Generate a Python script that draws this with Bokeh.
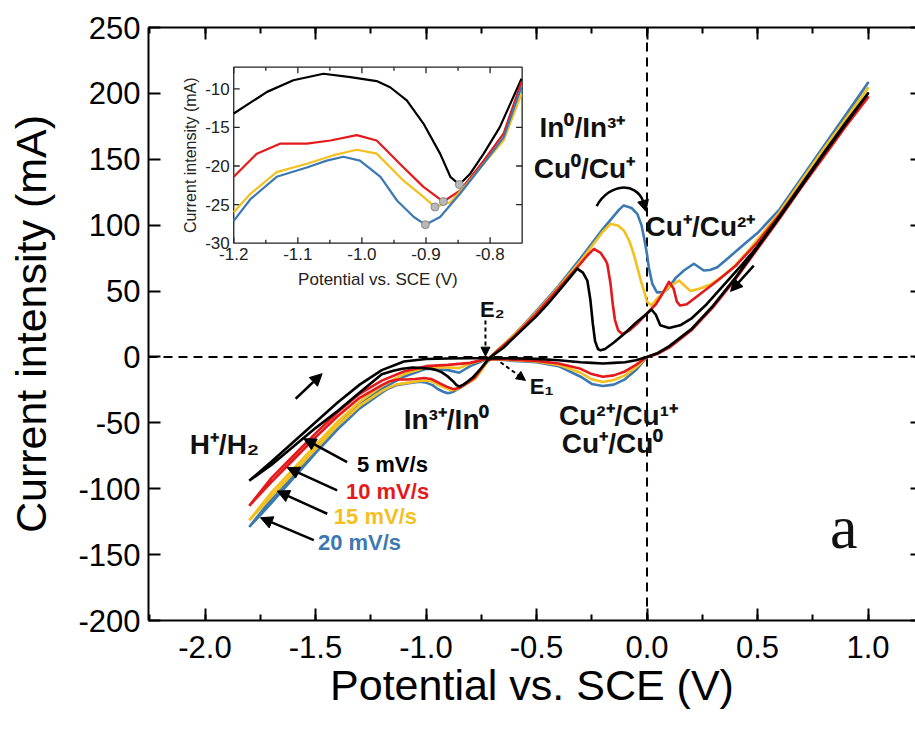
import numpy as np
from bokeh.plotting import figure
from bokeh.models import (Range1d, LinearAxis, SingleIntervalTicker, PrintfTickFormatter,
                          Span, Arrow, NormalHead, ColumnDataSource)
from bokeh.core.properties import value
from bokeh.embed import file_html
from bokeh.resources import INLINE

FONT = "Liberation Sans"

# ---------------- data ----------------
scan_labels = ["5 mV/s", "10 mV/s", "15 mV/s", "20 mV/s"]
curve_colors = ["#000000", "#e3191c", "#f4c01e", "#3c78b2"]

# reverse (cathodic) sweep, shared potentials
rev_hi_x = [1.0, 0.9, 0.8, 0.7, 0.6, 0.5, 0.4, 0.3, 0.2, 0.1, 0.05, 0.0, -0.05, -0.1, -0.15,
            -0.2, -0.25, -0.3, -0.4, -0.5, -0.6, -0.7, -0.72]
rev_lo_x = [-1.3, -1.4, -1.5, -1.6, -1.7, -1.8]

# 5 mV/s
black_fwd_x = [-1.8, -1.7, -1.6, -1.5, -1.4, -1.3, -1.2, -1.1, -1.0, -0.9, -0.8, -0.715, -0.65, -0.6,
               -0.5, -0.45, -0.4, -0.35, -0.316, -0.29, -0.27, -0.256, -0.245, -0.235, -0.222, -0.21,
               -0.19, -0.15, -0.1, -0.05, 0.0, 0.02, 0.04, 0.06, 0.1, 0.15, 0.2, 0.27, 0.35, 0.43, 0.5,
               0.6, 0.7, 0.8, 0.9, 1.0]
black_fwd_y = [-94, -79.5, -64.5, -49.5, -34.5, -21, -10, -3.5, -1.6, -1.2, -1.0, -1.0, 7, 15,
               31, 40, 50, 60, 67, 64, 58, 43, 25, 12, 6, 5,
               6, 11, 18, 26, 33, 36, 32, 24, 22, 24, 29, 40, 55, 70, 84,
               107, 131, 155, 178, 200]
black_rev_hi_y = [200, 177, 154, 130, 106, 83, 60, 39, 21, 8, 3, 0, -2.5, -4, -4.5,
                  -5, -4.5, -4, -2.5, -1.5, -1.0, -1.2, -2.0]
black_rev_lo_y = [-27, -41, -54, -68, -82, -94]

# 10 mV/s
red_fwd_x = [-1.8, -1.7, -1.6, -1.5, -1.4, -1.3, -1.2, -1.1, -1.0, -0.9, -0.8, -0.715, -0.6, -0.5,
             -0.4, -0.3, -0.27, -0.24, -0.21, -0.19, -0.18, -0.165, -0.155, -0.145, -0.13, -0.112,
             -0.08, -0.04, 0.0, 0.04, 0.07, 0.099, 0.12, 0.135, 0.15, 0.18, 0.242, 0.32, 0.4, 0.5,
             0.6, 0.7, 0.8, 0.9, 1.0]
red_fwd_y = [-113, -92, -75, -58, -42, -28, -18, -11, -7, -6, -4.5, -1.0, 16, 33,
             52, 71, 77, 82, 79, 74, 70.7, 55.5, 40, 28, 20, 17.5,
             20, 26, 33, 40, 48, 57, 52, 42, 39, 40, 48, 58, 69, 87,
             108, 131, 154, 176, 197]
red_rev_hi_y = [197, 175, 152, 129, 105, 82, 59, 38, 20, 7, 2.5, 0, -6, -11, -14,
                -15, -13, -9, -5, -3, -2, -1.5, -2.5]
red_rev_lo_y = [-31, -45, -61, -78, -95, -113]

# 15 mV/s
yellow_fwd_x = [-1.8, -1.7, -1.6, -1.5, -1.4, -1.3, -1.2, -1.1, -1.0, -0.9, -0.85, -0.8, -0.715,
                -0.6, -0.5, -0.4, -0.3, -0.25, -0.2, -0.165, -0.13, -0.105, -0.08, -0.06, -0.044,
                -0.025, -0.014, 0.0, 0.02, 0.05, 0.1, 0.145, 0.17, 0.197, 0.24, 0.287, 0.34, 0.39,
                0.45, 0.5, 0.6, 0.7, 0.8, 0.9, 1.0]
yellow_fwd_y = [-124, -103, -85, -67, -49, -34, -22, -13, -8, -8, -8.5, -5, -1.0,
                17, 34, 53, 73, 84, 95, 101, 99.5, 96, 88, 78, 68,
                56, 50.5, 42, 39, 45, 53, 58, 54, 50, 52, 55, 61, 68,
                79, 89, 110, 134, 158, 181, 204]
yellow_rev_hi_y = [204, 180, 156, 131, 107, 84, 60, 39, 21, 8, 3, 0, -8, -14, -17.5,
                   -19, -17, -12, -6, -3.5, -2.5, -1.5, -3]
yellow_rev_lo_y = [-37, -52, -70, -88, -106, -124]

# 20 mV/s
blue_fwd_x = [-1.8, -1.7, -1.6, -1.5, -1.4, -1.3, -1.2, -1.1, -1.0, -0.9, -0.85, -0.8, -0.715,
              -0.6, -0.5, -0.4, -0.3, -0.2, -0.15, -0.125, -0.105, -0.07, -0.044, -0.025, -0.014,
              0.0, 0.008, 0.024, 0.045, 0.07, 0.091, 0.13, 0.167, 0.212, 0.257, 0.285, 0.318, 0.36,
              0.408, 0.45, 0.5, 0.6, 0.7, 0.8, 0.9, 1.0]
blue_fwd_y = [-129, -108, -89, -70, -52, -36, -24, -15, -9, -10, -12, -7, -1.0,
              17, 35, 54, 75, 97, 107, 112, 115, 113, 108.6, 100, 91,
              78, 68, 55.5, 49, 49, 51, 60, 65.6, 70.7, 65.6, 66, 68, 74,
              81, 87, 94, 112, 136, 160, 184, 208]
blue_rev_hi_y = [208, 183, 158, 132, 108, 84, 60, 39, 21, 8, 3, 0, -10, -17, -21,
                 -22, -20.5, -15, -7, -4, -3, -1.5, -3]
blue_rev_lo_y = [-39, -55, -73, -92, -111, -129]

# inset: cathodic sweep, In3+/In0 region
inset_black_x = [-1.2, -1.148, -1.107, -1.06, -1.018, -0.977, -0.956, -0.93, -0.904, -0.878,
                 -0.862, -0.848, -0.831, -0.81, -0.785, -0.751]
inset_black_y = [-13.2, -10.4, -8.9, -8.05, -8.5, -9.0, -9.8, -11.5, -14.5, -18.4,
                 -21.4, -22.4, -21.0, -18.4, -15.0, -8.7]
inset_red_x = [-1.2, -1.164, -1.127, -1.086, -1.049, -1.008, -0.977, -0.935, -0.904, -0.873,
               -0.847, -0.81, -0.779, -0.751]
inset_red_y = [-21.4, -18.4, -17.1, -17.1, -16.7, -16.0, -16.7, -20.2, -22.7, -24.6,
               -23.2, -19.3, -15.8, -9.1]
inset_yellow_x = [-1.2, -1.174, -1.133, -1.086, -1.044, -1.008, -0.977, -0.935, -0.904, -0.886,
                  -0.862, -0.836, -0.81, -0.779, -0.751]
inset_yellow_y = [-26.0, -23.6, -20.8, -19.7, -18.6, -17.9, -18.4, -21.9, -24.0, -25.3,
                  -24.7, -22.3, -19.7, -16.7, -10.7]
inset_blue_x = [-1.2, -1.174, -1.133, -1.086, -1.055, -1.029, -1.003, -0.971, -0.945, -0.919,
                -0.901, -0.878, -0.847, -0.81, -0.779, -0.751]
inset_blue_y = [-27.1, -24.3, -21.4, -20.2, -19.3, -18.8, -19.3, -21.4, -24.5, -26.6,
                -27.6, -26.6, -23.6, -19.7, -16.3, -9.8]
inset_min_x = [-0.848, -0.873, -0.886, -0.901]
inset_min_y = [-22.4, -24.6, -25.3, -27.6]

inset_x_range = (-1.2, -0.75)
inset_y_range = (-30.0, -7.2)
inset_x_ticks = [-1.2, -1.1, -1.0, -0.9, -0.8]
inset_x_minor = [-1.15, -1.05, -0.95, -0.85]
inset_y_ticks = [-30, -25, -20, -15, -10]

# annotations (data coordinates of the main axes)
react_text = ["In\u2070/In\u00b3\u207a", "Cu\u2070/Cu\u207a", "Cu\u207a/Cu\u00b2\u207a",
              "In\u00b3\u207a/In\u2070", "H\u207a/H\u2082", "Cu\u00b2\u207a/Cu\u00b9\u207a",
              "Cu\u207a/Cu\u2070"]
react_x = [-0.292, -0.283, 0.242, -0.907, -1.912, -0.129, -0.156]
react_y = [174, 143, 99, -47.4, -66.4, -44.4, -65.6]
e_text = ["E\u2082", "E\u2081"]
e_x = [-0.7, -0.477]
e_y = [36, -22.5]
scan_x = [-1.152, -1.174, -1.229, -1.301]
scan_y = [-81.6, -102, -121, -141]
scan_arrow_x0 = [-1.357, -1.402, -1.447, -1.508]
scan_arrow_y0 = [-79.8, -101.3, -119, -139]
scan_arrow_x1 = [-1.553, -1.628, -1.673, -1.749]
scan_arrow_y1 = [-62, -84, -101.8, -122]

# ---------------- figure ----------------
p = figure(width=915, height=729, x_range=Range1d(-2.2557, 1.2149), y_range=Range1d(-200, 250),
           output_backend="svg", toolbar_location=None,
           min_border_left=148, min_border_right=0, min_border_top=27, min_border_bottom=109,
           x_axis_label="Potential vs. SCE (V)", y_axis_label="Current intensity (mA)")
p.outline_line_color = None
p.xgrid.visible = False
p.ygrid.visible = False
p.background_fill_color = "white"
p.border_fill_color = "white"

xticker = SingleIntervalTicker(interval=0.5, num_minor_ticks=2)
yticker = SingleIntervalTicker(interval=50, num_minor_ticks=2)

def style_axis(ax, ticker, labels=True):
    ax.ticker = ticker
    ax.axis_line_width = 2
    ax.major_tick_line_width = 2
    ax.minor_tick_line_width = 2
    ax.major_tick_in = 12
    ax.major_tick_out = 0
    ax.minor_tick_in = 6
    ax.minor_tick_out = 0
    if labels:
        ax.major_label_text_font = FONT
        ax.major_label_text_font_size = "31px"
        ax.major_label_text_color = "black"
        ax.axis_label_text_font = FONT
        ax.axis_label_text_font_size = "43px"
        ax.axis_label_text_font_style = "normal"
        ax.axis_label_text_color = "black"
    else:
        ax.major_label_text_font_size = "1px"
        ax.major_label_text_color = None
        ax.major_label_standoff = 0

xax = p.below[0]
style_axis(xax, xticker)
xax.formatter = PrintfTickFormatter(format="%.1f")
xax.major_label_standoff = 15
xax.axis_label_standoff = 0

yax = p.left[0]
style_axis(yax, yticker)
yax.formatter = PrintfTickFormatter(format="%d")
yax.minor_tick_line_color = None
yax.major_label_standoff = 8
yax.axis_label_standoff = 20

top_ax = LinearAxis()
style_axis(top_ax, xticker, labels=False)
p.add_layout(top_ax, "above")

right_ax = LinearAxis()
style_axis(right_ax, yticker, labels=False)
right_ax.axis_line_color = None
right_ax.minor_tick_line_color = None
right_ax.major_tick_in = 5
p.add_layout(right_ax, "right")

# zero lines
for dim in ("width", "height"):
    p.add_layout(Span(location=0, dimension=dim, line_color="black", line_width=2,
                      line_dash="9 6", level="underlay"))

# CV loops: forward sweep, then reverse sweep (upper part, inset part, H2 part)
def loop(fx, fy, rhy, ix, iy, rly):
    xs = list(fx) + list(rev_hi_x) + list(reversed(ix)) + list(rev_lo_x)
    ys = list(fy) + list(rhy) + list(reversed(iy)) + list(rly)
    return xs, ys

loops = [
    (blue_fwd_x, blue_fwd_y, blue_rev_hi_y, inset_blue_x, inset_blue_y, blue_rev_lo_y, curve_colors[3]),
    (yellow_fwd_x, yellow_fwd_y, yellow_rev_hi_y, inset_yellow_x, inset_yellow_y, yellow_rev_lo_y, curve_colors[2]),
    (red_fwd_x, red_fwd_y, red_rev_hi_y, inset_red_x, inset_red_y, red_rev_lo_y, curve_colors[1]),
    (black_fwd_x, black_fwd_y, black_rev_hi_y, inset_black_x, inset_black_y, black_rev_lo_y, curve_colors[0]),
]
for fx, fy, rhy, ix, iy, rly, col in loops:
    xs, ys = loop(fx, fy, rhy, ix, iy, rly)
    p.line(xs, ys, line_color=col, line_width=2.6, line_join="round")

# arrows
head = lambda s: NormalHead(size=s, fill_color="black", line_color="black")
arrow_src = ColumnDataSource(dict(x0=scan_arrow_x0, y0=scan_arrow_y0, x1=scan_arrow_x1, y1=scan_arrow_y1))
p.add_layout(Arrow(end=head(12), source=arrow_src, x_start="x0", y_start="y0", x_end="x1", y_end="y1",
                   line_width=2.5, line_color="black"))
p.add_layout(Arrow(end=head(12), x_start=-1.59, y_start=-31.7, x_end=-1.47, y_end=-12.7,
                   line_width=2.5, line_color="black"))
p.add_layout(Arrow(end=head(12), x_start=0.483, y_start=69.3, x_end=0.378, y_end=49.7,
                   line_width=2.5, line_color="black"))
p.add_layout(Arrow(end=head(9), x_start=-0.731, y_start=27.7, x_end=-0.731, y_end=0.6,
                   line_width=2, line_color="black", line_dash="4 3"))
p.add_layout(Arrow(end=head(9), x_start=-0.663, y_start=-4, x_end=-0.55, y_end=-17.8,
                   line_width=2, line_color="black", line_dash="4 3"))
# curved arrow over the oxidation peaks
p.bezier(x0=[-0.228], y0=[114.5], x1=[-0.017], y1=[118], cx0=[-0.17], cy0=[132], cx1=[-0.05], cy1=[133],
         line_color="black", line_width=2.5)
p.add_layout(Arrow(end=head(11), x_start=-0.017, y_start=118, x_end=-0.005, y_end=110.5,
                   line_width=2.5, line_color="black"))

# texts
p.text(x=react_x, y=react_y, text=react_text, text_font=value(FONT), text_font_style="bold",
       text_font_size=value("28px"), text_color="#111111", text_align="center", text_baseline="middle")
p.text(x=e_x, y=e_y, text=e_text, text_font=value(FONT), text_font_style="bold",
       text_font_size=value("22px"), text_color="#111111", text_align="center", text_baseline="middle")
scan_src = ColumnDataSource(dict(x=scan_x, y=scan_y, t=scan_labels, c=curve_colors))
p.text(x="x", y="y", text="t", text_color="c", source=scan_src, text_font=value(FONT),
       text_font_style="bold", text_font_size=value("22px"), text_align="center", text_baseline="middle")
p.text(x=[0.89], y=[-129], text=["a"], text_font=value("Liberation Serif"),
       text_font_size=value("62px"), text_color="#111111", text_align="center", text_baseline="middle")

# ---------------- inset ----------------
ix0, ix1 = inset_x_range
iy0, iy1 = inset_y_range
sub = p.subplot(x_source=Range1d(ix0, ix1), y_source=Range1d(iy0, iy1),
                x_target=Range1d(-1.87, -0.565), y_target=Range1d(86.3, 219.9))
box_w_px, box_h_px = 288.0, 176.0
sx = (ix1 - ix0) / box_w_px
sy = (iy1 - iy0) / box_h_px

sub.quad(left=[ix0], right=[ix1], bottom=[iy0], top=[iy1], fill_color="white",
         line_color="#222222", line_width=1.3)
tick_col = "#222222"
nx, nm = len(inset_x_ticks), len(inset_x_minor)
sub.segment(x0=inset_x_ticks, y0=[iy0] * nx, x1=inset_x_ticks, y1=[iy0 + 6 * sy] * nx,
            line_color=tick_col, line_width=1.3)
sub.segment(x0=inset_x_ticks, y0=[iy1] * nx, x1=inset_x_ticks, y1=[iy1 - 6 * sy] * nx,
            line_color=tick_col, line_width=1.3)
sub.segment(x0=inset_x_minor, y0=[iy0] * nm, x1=inset_x_minor, y1=[iy0 + 3.5 * sy] * nm,
            line_color=tick_col, line_width=1.3)
sub.segment(x0=inset_x_minor, y0=[iy1] * nm, x1=inset_x_minor, y1=[iy1 - 3.5 * sy] * nm,
            line_color=tick_col, line_width=1.3)
yt_inner = inset_y_ticks[1:]
ny = len(yt_inner)
sub.segment(x0=[ix0] * ny, y0=yt_inner, x1=[ix0 + 6 * sx] * ny, y1=yt_inner,
            line_color=tick_col, line_width=1.3)
sub.segment(x0=[ix1] * ny, y0=yt_inner, x1=[ix1 - 6 * sx] * ny, y1=yt_inner,
            line_color=tick_col, line_width=1.3)

for ix, iy, col in [(inset_black_x, inset_black_y, curve_colors[0]),
                    (inset_red_x, inset_red_y, curve_colors[1]),
                    (inset_yellow_x, inset_yellow_y, curve_colors[2]),
                    (inset_blue_x, inset_blue_y, curve_colors[3])]:
    sub.line(ix, iy, line_color=col, line_width=2.2, line_join="round")
sub.scatter(inset_min_x, inset_min_y, size=8, fill_color="#b8b8b8", line_color="#8a8a8a", line_width=1)

sub.text(x=inset_x_ticks, y=[iy0] * nx, text=["%.1f" % t for t in inset_x_ticks], text_font=value(FONT),
         text_font_size=value("17px"), text_color="#222222", text_align="center", text_baseline="top",
         y_offset=5)
sub.text(x=[ix0] * len(inset_y_ticks), y=inset_y_ticks, text=["%d" % t for t in inset_y_ticks],
         text_font=value(FONT), text_font_size=value("17px"), text_color="#222222", text_align="right",
         text_baseline="middle", x_offset=-4)
sub.text(x=[(ix0 + ix1) / 2], y=[iy0], text=["Potential vs. SCE (V)"], text_font=value(FONT),
         text_font_size=value("17px"), text_color="#222222", text_align="center", text_baseline="top",
         y_offset=27)
sub.text(x=[ix0], y=[(iy0 + iy1) / 2], text=["Current intensity (mA)"], text_font=value(FONT),
         text_font_size=value("16px"), text_color="#222222", text_align="center", text_baseline="middle",
         angle=np.pi / 2, x_offset=-43)

open("out.html", "w").write(file_html(p, INLINE))
